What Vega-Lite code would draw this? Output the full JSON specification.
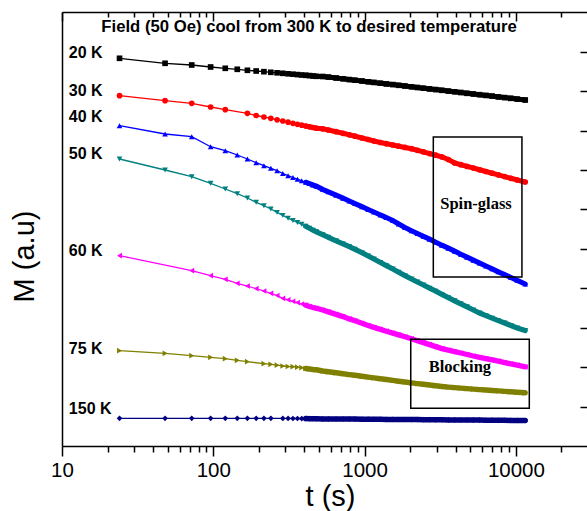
{
  "$schema": "https://vega.github.io/schema/vega-lite/v6.json",
  "width": 525,
  "height": 434,
  "autosize": {"type": "none"},
  "padding": {"left": 62, "top": 12, "right": 0, "bottom": 65},
  "background": "white",
  "config": {
    "view": {"stroke": null},
    "font": "Liberation Sans",
    "axis": {"domainColor": "black", "tickColor": "black", "labelColor": "black", "titleColor": "black", "grid": false, "domainWidth": 1.5, "tickWidth": 1.5}
  },
  "datasets": {
    "d": [
      {"s":"20 K","t":24,"m":387.7},{"s":"20 K","t":48,"m":382.7},{"s":"20 K","t":72,"m":381},{"s":"20 K","t":96,"m":379},{"s":"20 K","t":120,"m":377.7},{"s":"20 K","t":144,"m":376.7},{"s":"20 K","t":168,"m":375.7},{"s":"20 K","t":192,"m":375},{"s":"20 K","t":216,"m":374.3},{"s":"20 K","t":240,"m":373.7},{"s":"20 K","t":264,"m":373.2},{"s":"20 K","t":288,"m":372.7},{"s":"20 K","t":312,"m":372.2},{"s":"20 K","t":336,"m":371.8},{"s":"20 K","t":360,"m":371.4},{"s":"20 K","t":384,"m":371},{"s":"20 K","t":408,"m":370.7},{"s":"20 K","t":432,"m":370.4},{"s":"20 K","t":456,"m":370},{"s":"20 K","t":480,"m":369.7},{"s":"20 K","t":528,"m":369.5},{"s":"20 K","t":576,"m":368.9},{"s":"20 K","t":648,"m":368},{"s":"20 K","t":720,"m":367.2},{"s":"20 K","t":792,"m":366.4},{"s":"20 K","t":864,"m":365.8},{"s":"20 K","t":960,"m":365},{"s":"20 K","t":1056,"m":364.2},{"s":"20 K","t":1152,"m":363.6},{"s":"20 K","t":1272,"m":362.8},{"s":"20 K","t":1392,"m":362.1},{"s":"20 K","t":1536,"m":361.4},{"s":"20 K","t":1680,"m":360.7},{"s":"20 K","t":1848,"m":360},{"s":"20 K","t":2040,"m":359.2},{"s":"20 K","t":2232,"m":358.5},{"s":"20 K","t":2448,"m":357.8},{"s":"20 K","t":2688,"m":357.1},{"s":"20 K","t":2952,"m":356.4},{"s":"20 K","t":3240,"m":355.7},{"s":"20 K","t":3576,"m":354.9},{"s":"20 K","t":3936,"m":354.2},{"s":"20 K","t":4320,"m":353.5},{"s":"20 K","t":4752,"m":352.7},{"s":"20 K","t":5232,"m":352},{"s":"20 K","t":5760,"m":351.3},{"s":"20 K","t":6336,"m":350.6},{"s":"20 K","t":6960,"m":349.9},{"s":"20 K","t":7656,"m":349.1},{"s":"20 K","t":8424,"m":348.4},{"s":"20 K","t":9264,"m":347.7},{"s":"20 K","t":10200,"m":346.9},{"s":"20 K","t":11520,"m":346},
      {"s":"30 K","t":24,"m":350.3},{"s":"30 K","t":48,"m":345.3},{"s":"30 K","t":72,"m":342.7},{"s":"30 K","t":96,"m":339},{"s":"30 K","t":120,"m":336.3},{"s":"30 K","t":168,"m":332.7},{"s":"30 K","t":192,"m":330.5},{"s":"30 K","t":216,"m":329},{"s":"30 K","t":240,"m":327.7},{"s":"30 K","t":264,"m":326.2},{"s":"30 K","t":288,"m":325},{"s":"30 K","t":312,"m":323.8},{"s":"30 K","t":336,"m":322.7},{"s":"30 K","t":360,"m":321.7},{"s":"30 K","t":384,"m":320.8},{"s":"30 K","t":408,"m":320},{"s":"30 K","t":432,"m":319.2},{"s":"30 K","t":456,"m":318.5},{"s":"30 K","t":480,"m":317.8},{"s":"30 K","t":528,"m":317.2},{"s":"30 K","t":576,"m":316},{"s":"30 K","t":648,"m":314.3},{"s":"30 K","t":720,"m":312.7},{"s":"30 K","t":792,"m":311.2},{"s":"30 K","t":864,"m":309.8},{"s":"30 K","t":960,"m":308},{"s":"30 K","t":1056,"m":306.5},{"s":"30 K","t":1152,"m":305},{"s":"30 K","t":1272,"m":303.5},{"s":"30 K","t":1392,"m":302.3},{"s":"30 K","t":1536,"m":301},{"s":"30 K","t":1680,"m":299.8},{"s":"30 K","t":1848,"m":298.6},{"s":"30 K","t":2040,"m":297.3},{"s":"30 K","t":2232,"m":295.7},{"s":"30 K","t":2448,"m":294.1},{"s":"30 K","t":2688,"m":292.4},{"s":"30 K","t":2952,"m":290.8},{"s":"30 K","t":3240,"m":289.1},{"s":"30 K","t":3576,"m":286.5},{"s":"30 K","t":3936,"m":283},{"s":"30 K","t":4320,"m":281.3},{"s":"30 K","t":4752,"m":279.6},{"s":"30 K","t":5232,"m":278},{"s":"30 K","t":5760,"m":276.2},{"s":"30 K","t":6336,"m":274.5},{"s":"30 K","t":6960,"m":272.8},{"s":"30 K","t":7656,"m":271.1},{"s":"30 K","t":8424,"m":269.4},{"s":"30 K","t":9264,"m":267.7},{"s":"30 K","t":10200,"m":266},{"s":"30 K","t":11520,"m":264},
      {"s":"40 K","t":24,"m":320.3},{"s":"40 K","t":48,"m":312},{"s":"40 K","t":72,"m":309.3},{"s":"40 K","t":96,"m":299.3},{"s":"40 K","t":120,"m":295.3},{"s":"40 K","t":144,"m":291},{"s":"40 K","t":168,"m":287},{"s":"40 K","t":192,"m":283.3},{"s":"40 K","t":216,"m":280.3},{"s":"40 K","t":240,"m":277.7},{"s":"40 K","t":264,"m":275.3},{"s":"40 K","t":288,"m":272.5},{"s":"40 K","t":312,"m":270.3},{"s":"40 K","t":336,"m":268.5},{"s":"40 K","t":360,"m":266.8},{"s":"40 K","t":384,"m":265.2},{"s":"40 K","t":408,"m":263.7},{"s":"40 K","t":432,"m":262.4},{"s":"40 K","t":456,"m":261},{"s":"40 K","t":480,"m":259.8},{"s":"40 K","t":528,"m":256.6},{"s":"40 K","t":576,"m":254.1},{"s":"40 K","t":648,"m":250.8},{"s":"40 K","t":720,"m":247.8},{"s":"40 K","t":792,"m":245},{"s":"40 K","t":864,"m":242.4},{"s":"40 K","t":960,"m":239.3},{"s":"40 K","t":1056,"m":236.5},{"s":"40 K","t":1152,"m":234},{"s":"40 K","t":1272,"m":231},{"s":"40 K","t":1392,"m":228.5},{"s":"40 K","t":1536,"m":225.5},{"s":"40 K","t":1680,"m":222},{"s":"40 K","t":1848,"m":218.5},{"s":"40 K","t":2040,"m":215.3},{"s":"40 K","t":2232,"m":212.5},{"s":"40 K","t":2448,"m":209.7},{"s":"40 K","t":2688,"m":206.8},{"s":"40 K","t":2952,"m":203.8},{"s":"40 K","t":3240,"m":200.8},{"s":"40 K","t":3576,"m":197.8},{"s":"40 K","t":3936,"m":194.8},{"s":"40 K","t":4320,"m":191.8},{"s":"40 K","t":4752,"m":188.8},{"s":"40 K","t":5232,"m":185.8},{"s":"40 K","t":5760,"m":182.9},{"s":"40 K","t":6336,"m":180},{"s":"40 K","t":6960,"m":177.1},{"s":"40 K","t":7656,"m":174.2},{"s":"40 K","t":8424,"m":171.4},{"s":"40 K","t":9264,"m":168.5},{"s":"40 K","t":10200,"m":165.6},{"s":"40 K","t":11520,"m":162},
      {"s":"50 K","t":24,"m":287},{"s":"50 K","t":48,"m":276},{"s":"50 K","t":72,"m":269.3},{"s":"50 K","t":96,"m":262.7},{"s":"50 K","t":120,"m":257},{"s":"50 K","t":144,"m":252.3},{"s":"50 K","t":168,"m":248},{"s":"50 K","t":192,"m":243.7},{"s":"50 K","t":216,"m":240.3},{"s":"50 K","t":240,"m":237},{"s":"50 K","t":264,"m":233.6},{"s":"50 K","t":288,"m":230.6},{"s":"50 K","t":312,"m":227.8},{"s":"50 K","t":336,"m":225.5},{"s":"50 K","t":360,"m":223.5},{"s":"50 K","t":384,"m":221.7},{"s":"50 K","t":408,"m":219.7},{"s":"50 K","t":432,"m":217.7},{"s":"50 K","t":456,"m":215.8},{"s":"50 K","t":480,"m":214.2},{"s":"50 K","t":528,"m":211.3},{"s":"50 K","t":576,"m":208.7},{"s":"50 K","t":648,"m":205.2},{"s":"50 K","t":720,"m":202.1},{"s":"50 K","t":792,"m":199.3},{"s":"50 K","t":864,"m":196.7},{"s":"50 K","t":960,"m":193.3},{"s":"50 K","t":1056,"m":190},{"s":"50 K","t":1152,"m":187},{"s":"50 K","t":1272,"m":183.5},{"s":"50 K","t":1392,"m":180.4},{"s":"50 K","t":1536,"m":177},{"s":"50 K","t":1680,"m":173.8},{"s":"50 K","t":1848,"m":170.4},{"s":"50 K","t":2040,"m":167},{"s":"50 K","t":2232,"m":164},{"s":"50 K","t":2448,"m":161},{"s":"50 K","t":2688,"m":157.8},{"s":"50 K","t":2952,"m":154.8},{"s":"50 K","t":3240,"m":151.6},{"s":"50 K","t":3576,"m":148.4},{"s":"50 K","t":3936,"m":145.2},{"s":"50 K","t":4320,"m":142.2},{"s":"50 K","t":4752,"m":139.2},{"s":"50 K","t":5232,"m":136},{"s":"50 K","t":5760,"m":133},{"s":"50 K","t":6336,"m":130.4},{"s":"50 K","t":6960,"m":127.9},{"s":"50 K","t":7656,"m":125.4},{"s":"50 K","t":8424,"m":123},{"s":"50 K","t":9264,"m":120.5},{"s":"50 K","t":10200,"m":118},{"s":"50 K","t":11520,"m":115.5},
      {"s":"60 K","t":24,"m":190.3},{"s":"60 K","t":72,"m":175.3},{"s":"60 K","t":96,"m":170.3},{"s":"60 K","t":120,"m":166.7},{"s":"60 K","t":144,"m":162.7},{"s":"60 K","t":168,"m":160},{"s":"60 K","t":192,"m":157.3},{"s":"60 K","t":216,"m":155},{"s":"60 K","t":240,"m":152.7},{"s":"60 K","t":264,"m":150.5},{"s":"60 K","t":288,"m":147.6},{"s":"60 K","t":312,"m":146.2},{"s":"60 K","t":336,"m":144.7},{"s":"60 K","t":360,"m":143.4},{"s":"60 K","t":384,"m":142},{"s":"60 K","t":408,"m":140.8},{"s":"60 K","t":432,"m":139.5},{"s":"60 K","t":456,"m":138.5},{"s":"60 K","t":480,"m":137.7},{"s":"60 K","t":528,"m":136},{"s":"60 K","t":576,"m":134.1},{"s":"60 K","t":648,"m":131.6},{"s":"60 K","t":720,"m":129.4},{"s":"60 K","t":792,"m":127.1},{"s":"60 K","t":864,"m":125.2},{"s":"60 K","t":960,"m":122.7},{"s":"60 K","t":1056,"m":120.5},{"s":"60 K","t":1152,"m":118.6},{"s":"60 K","t":1272,"m":116.6},{"s":"60 K","t":1392,"m":114.8},{"s":"60 K","t":1536,"m":112.9},{"s":"60 K","t":1680,"m":111.1},{"s":"60 K","t":1848,"m":109.2},{"s":"60 K","t":2040,"m":107.2},{"s":"60 K","t":2232,"m":105.3},{"s":"60 K","t":2448,"m":103.4},{"s":"60 K","t":2688,"m":101.4},{"s":"60 K","t":2952,"m":99.4},{"s":"60 K","t":3240,"m":97.4},{"s":"60 K","t":3576,"m":95.8},{"s":"60 K","t":3936,"m":94.4},{"s":"60 K","t":4320,"m":93},{"s":"60 K","t":4752,"m":91.5},{"s":"60 K","t":5232,"m":90},{"s":"60 K","t":5760,"m":88.7},{"s":"60 K","t":6336,"m":87.4},{"s":"60 K","t":6960,"m":86.1},{"s":"60 K","t":7656,"m":84.8},{"s":"60 K","t":8424,"m":83.4},{"s":"60 K","t":9264,"m":82.1},{"s":"60 K","t":10200,"m":80.8},{"s":"60 K","t":11520,"m":79.1},
      {"s":"75 K","t":24,"m":95.3},{"s":"75 K","t":48,"m":92.7},{"s":"75 K","t":72,"m":90.3},{"s":"75 K","t":96,"m":88.7},{"s":"75 K","t":120,"m":87.3},{"s":"75 K","t":144,"m":85.7},{"s":"75 K","t":168,"m":84.3},{"s":"75 K","t":216,"m":82.3},{"s":"75 K","t":240,"m":81.7},{"s":"75 K","t":264,"m":80.8},{"s":"75 K","t":288,"m":80},{"s":"75 K","t":312,"m":79.5},{"s":"75 K","t":336,"m":79.3},{"s":"75 K","t":360,"m":78.8},{"s":"75 K","t":384,"m":78.3},{"s":"75 K","t":408,"m":77.5},{"s":"75 K","t":432,"m":77},{"s":"75 K","t":456,"m":76.5},{"s":"75 K","t":480,"m":76.2},{"s":"75 K","t":528,"m":75},{"s":"75 K","t":576,"m":74.2},{"s":"75 K","t":648,"m":73.2},{"s":"75 K","t":720,"m":72.3},{"s":"75 K","t":792,"m":71.4},{"s":"75 K","t":864,"m":70.7},{"s":"75 K","t":960,"m":69.7},{"s":"75 K","t":1056,"m":68.9},{"s":"75 K","t":1152,"m":68.1},{"s":"75 K","t":1272,"m":67.3},{"s":"75 K","t":1392,"m":66.5},{"s":"75 K","t":1536,"m":65.6},{"s":"75 K","t":1680,"m":64.8},{"s":"75 K","t":1848,"m":64},{"s":"75 K","t":2040,"m":63.1},{"s":"75 K","t":2232,"m":62.4},{"s":"75 K","t":2448,"m":61.7},{"s":"75 K","t":2688,"m":61},{"s":"75 K","t":2952,"m":60.2},{"s":"75 K","t":3240,"m":59.5},{"s":"75 K","t":3576,"m":58.9},{"s":"75 K","t":3936,"m":58.4},{"s":"75 K","t":4320,"m":57.9},{"s":"75 K","t":4752,"m":57.4},{"s":"75 K","t":5232,"m":56.9},{"s":"75 K","t":5760,"m":56.4},{"s":"75 K","t":6336,"m":56},{"s":"75 K","t":6960,"m":55.5},{"s":"75 K","t":7656,"m":55.1},{"s":"75 K","t":8424,"m":54.6},{"s":"75 K","t":9264,"m":54.2},{"s":"75 K","t":10200,"m":53.7},{"s":"75 K","t":11520,"m":53.2},
      {"s":"150 K","t":24,"m":27.7},{"s":"150 K","t":48,"m":27.7},{"s":"150 K","t":72,"m":27.7},{"s":"150 K","t":96,"m":27.7},{"s":"150 K","t":120,"m":27.7},{"s":"150 K","t":144,"m":27.7},{"s":"150 K","t":168,"m":27.7},{"s":"150 K","t":192,"m":27.7},{"s":"150 K","t":216,"m":27.7},{"s":"150 K","t":240,"m":27.7},{"s":"150 K","t":288,"m":27.6},{"s":"150 K","t":312,"m":27.6},{"s":"150 K","t":336,"m":27.5},{"s":"150 K","t":360,"m":27.5},{"s":"150 K","t":384,"m":27.4},{"s":"150 K","t":408,"m":27.4},{"s":"150 K","t":432,"m":27.3},{"s":"150 K","t":456,"m":27.3},{"s":"150 K","t":480,"m":27.2},{"s":"150 K","t":528,"m":27.1},{"s":"150 K","t":576,"m":27.1},{"s":"150 K","t":648,"m":27},{"s":"150 K","t":720,"m":27},{"s":"150 K","t":792,"m":26.9},{"s":"150 K","t":864,"m":26.9},{"s":"150 K","t":960,"m":26.8},{"s":"150 K","t":1056,"m":26.8},{"s":"150 K","t":1152,"m":26.7},{"s":"150 K","t":1272,"m":26.7},{"s":"150 K","t":1392,"m":26.6},{"s":"150 K","t":1536,"m":26.6},{"s":"150 K","t":1680,"m":26.5},{"s":"150 K","t":1848,"m":26.5},{"s":"150 K","t":2040,"m":26.4},{"s":"150 K","t":2232,"m":26.4},{"s":"150 K","t":2448,"m":26.3},{"s":"150 K","t":2688,"m":26.3},{"s":"150 K","t":2952,"m":26.2},{"s":"150 K","t":3240,"m":26.2},{"s":"150 K","t":3576,"m":26.1},{"s":"150 K","t":3936,"m":26.1},{"s":"150 K","t":4320,"m":26},{"s":"150 K","t":4752,"m":26},{"s":"150 K","t":5232,"m":25.9},{"s":"150 K","t":5760,"m":25.9},{"s":"150 K","t":6336,"m":25.8},{"s":"150 K","t":6960,"m":25.8},{"s":"150 K","t":7656,"m":25.7},{"s":"150 K","t":8424,"m":25.7},{"s":"150 K","t":9264,"m":25.6},{"s":"150 K","t":10200,"m":25.6},{"s":"150 K","t":11520,"m":25.5}
    ],
    "labels": [
      {"l":"20 K","t":11.1,"m":393},
      {"l":"30 K","t":11.1,"m":355},
      {"l":"40 K","t":11.1,"m":329},
      {"l":"50 K","t":11.1,"m":292},
      {"l":"60 K","t":11.1,"m":195},
      {"l":"75 K","t":11.1,"m":97},
      {"l":"150 K","t":11.1,"m":37}
    ],
    "boxes": [
      {"t1":2845,"t2":10960,"m1":309,"m2":169},
      {"t1":2018,"t2":12260,"m1":106.7,"m2":37.7}
    ],
    "notes": [
      {"l":"Spin-glass","t":5445,"m":242},
      {"l":"Blocking","t":4266,"m":79}
    ],
    "head": [
      {"l":"Field (50 Oe) cool from 300 K to desired temperature","t":429.5,"m":419.5}
    ]
  },
  "resolve": {"axis": {"x": "independent", "y": "independent"}},
  "layer": [
    {
      "data": {"name": "d"},
      "mark": {"type": "line", "strokeWidth": 1.3},
      "encoding": {
        "x": {
          "field": "t", "type": "quantitative",
          "scale": {"type": "log", "domain": [10, 29500], "nice": false},
          "axis": {
            "orient": "bottom",
            "values": [10,20,30,40,50,60,70,80,90,100,200,300,400,500,600,700,800,900,1000,2000,3000,4000,5000,6000,7000,8000,9000,10000,20000],
            "labelExpr": "(datum.value == 10 || datum.value == 100 || datum.value == 1000 || datum.value == 10000) ? format(datum.value, 'd') : ''",
            "tickSize": {"condition": {"test": "datum.value == 10 || datum.value == 100 || datum.value == 1000 || datum.value == 10000", "value": 10}, "value": 6},
            "labelFontSize": 20.5,
            "labelPadding": 4,
            "labelFlush": false,
            "labelOverlap": false,
            "title": "t (s)",
            "titleFontSize": 29,
            "titleFontWeight": "normal",
            "titleX": 268,
            "titleY": 59,
            "titleBaseline": "alphabetic",
            "titleAlign": "center"
          }
        },
        "y": {
          "field": "m", "type": "quantitative",
          "scale": {"domain": [0, 434], "nice": false, "zero": false},
          "axis": {
            "orient": "left",
            "ticks": false,
            "labels": false,
            "title": "M (a.u)",
            "titleFontSize": 29,
            "titleFontWeight": "normal",
            "titleAngle": -90,
            "titleX": -29,
            "titleY": 244,
            "titleBaseline": "alphabetic",
            "titleAlign": "center"
          }
        },
        "color": {
          "field": "s", "type": "nominal",
          "scale": {"domain": ["20 K","30 K","40 K","50 K","60 K","75 K","150 K"], "range": ["#000000","#ff0000","#0000ff","#008080","#ff00ff","#808000","#000080"]},
          "legend": null
        }
      }
    },
    {
      "data": {"name": "d"},
      "transform": [{"filter": "datum.t >= 408"}],
      "mark": {"type": "line", "strokeCap": "round"},
      "encoding": {
        "x": {"field": "t", "type": "quantitative", "axis": null},
        "y": {"field": "m", "type": "quantitative", "axis": null},
        "color": {"field": "s", "type": "nominal", "legend": null},
        "strokeWidth": {"field": "s", "type": "nominal", "scale": {"domain": ["20 K","30 K","40 K","50 K","60 K","75 K","150 K"], "range": [5, 5.5, 6.5, 5, 6, 6, 5]}, "legend": null}
      }
    },
    {
      "data": {"name": "d"},
      "mark": {"type": "point", "filled": true, "size": 32, "opacity": 1},
      "encoding": {
        "x": {"field": "t", "type": "quantitative", "axis": null},
        "y": {"field": "m", "type": "quantitative", "axis": null},
        "color": {"field": "s", "type": "nominal", "legend": null},
        "shape": {"field": "s", "type": "nominal", "scale": {"domain": ["20 K","30 K","40 K","50 K","60 K","75 K","150 K"], "range": ["square","circle","triangle-up","triangle-down","triangle-left","triangle-right","diamond"]}, "legend": null}
      }
    },
    {
      "data": {"name": "boxes"},
      "mark": {"type": "rect", "fill": "white", "fillOpacity": 0, "stroke": "black", "strokeWidth": 1.5},
      "encoding": {
        "x": {
          "field": "t1", "type": "quantitative",
          "axis": {
            "orient": "top",
            "values": [10,20,30,40,50,60,70,80,90,100,200,300,400,500,600,700,800,900,1000,2000,3000,4000,5000,6000,7000,8000,9000,10000,20000],
            "labels": false,
            "title": null,
            "tickSize": {"condition": {"test": "datum.value == 10 || datum.value == 100 || datum.value == 1000 || datum.value == 10000", "value": -9}, "value": -5}
          }
        },
        "x2": {"field": "t2"},
        "y": {
          "field": "m1", "type": "quantitative",
          "axis": {
            "orient": "right",
            "values": [39.3, 78.7, 118.2, 157.6, 197, 236.5, 275.9, 315.3, 354.8, 394.3],
            "labels": false,
            "title": null,
            "domain": false,
            "tickSize": -7
          }
        },
        "y2": {"field": "m2"}
      }
    },
    {
      "data": {"name": "labels"},
      "mark": {"type": "text", "align": "left", "baseline": "middle", "fontWeight": "bold", "fontSize": 16, "font": "Liberation Sans", "color": "black"},
      "encoding": {
        "x": {"field": "t", "type": "quantitative", "axis": null},
        "y": {"field": "m", "type": "quantitative", "axis": null},
        "text": {"field": "l"}
      }
    },
    {
      "data": {"name": "head"},
      "mark": {"type": "text", "align": "center", "baseline": "middle", "fontWeight": "bold", "fontSize": 16.7, "font": "Liberation Sans", "color": "black"},
      "encoding": {
        "x": {"field": "t", "type": "quantitative", "axis": null},
        "y": {"field": "m", "type": "quantitative", "axis": null},
        "text": {"field": "l"}
      }
    },
    {
      "data": {"name": "notes"},
      "mark": {"type": "text", "align": "center", "baseline": "middle", "fontWeight": "bold", "fontSize": 16.5, "font": "Liberation Serif", "color": "black"},
      "encoding": {
        "x": {"field": "t", "type": "quantitative", "axis": null},
        "y": {"field": "m", "type": "quantitative", "axis": null},
        "text": {"field": "l"}
      }
    }
  ]
}
